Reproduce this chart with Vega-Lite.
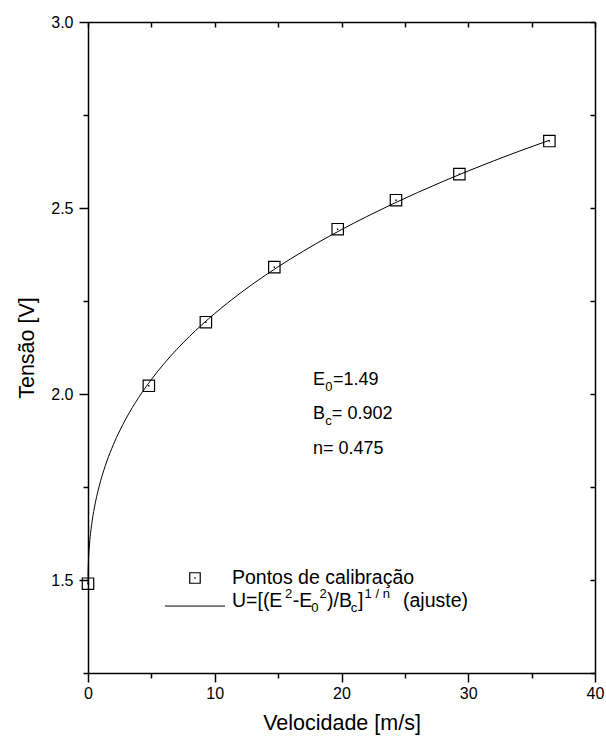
{
  "$schema": "https://vega.github.io/schema/vega-lite/v6.json",
  "width": 507,
  "height": 651,
  "autosize": {"type": "none"},
  "padding": {"left": 88, "top": 22, "right": 11, "bottom": 69},
  "background": "white",
  "config": {
    "view": {"stroke": null},
    "font": "Liberation Sans",
    "axis": {
      "domainColor": "black",
      "domainWidth": 1.5,
      "tickColor": "black",
      "tickWidth": 1.5,
      "labelColor": "black",
      "labelFont": "Liberation Sans",
      "labelFontSize": 16,
      "titleFont": "Liberation Sans",
      "titleFontSize": 21.5,
      "titleFontWeight": "normal",
      "titleColor": "black",
      "grid": false,
      "labelFlush": false,
      "labelOverlap": false
    }
  },
  "datasets": {
    "pts": [
      {"x": 0, "y": 1.49},
      {"x": 4.8, "y": 2.022},
      {"x": 9.3, "y": 2.193},
      {"x": 14.7, "y": 2.341},
      {"x": 19.7, "y": 2.443},
      {"x": 24.3, "y": 2.521},
      {"x": 29.3, "y": 2.591},
      {"x": 36.4, "y": 2.68}
    ],
    "fit": [
      {"x": 0, "y": 1.49},
      {"x": 0.01, "y": 1.5236},
      {"x": 0.02, "y": 1.5365},
      {"x": 0.05, "y": 1.5613},
      {"x": 0.1, "y": 1.5882},
      {"x": 0.2, "y": 1.6248},
      {"x": 0.3, "y": 1.6521},
      {"x": 0.5, "y": 1.6938},
      {"x": 0.75, "y": 1.734},
      {"x": 1, "y": 1.7669},
      {"x": 1.5, "y": 1.8203},
      {"x": 2, "y": 1.8638},
      {"x": 3, "y": 1.934},
      {"x": 4, "y": 1.9906},
      {"x": 5, "y": 2.039},
      {"x": 6, "y": 2.0816},
      {"x": 8, "y": 2.1546},
      {"x": 10, "y": 2.2165},
      {"x": 12, "y": 2.2708},
      {"x": 14, "y": 2.3194},
      {"x": 16, "y": 2.3636},
      {"x": 18, "y": 2.4042},
      {"x": 20, "y": 2.4419},
      {"x": 22, "y": 2.4771},
      {"x": 24, "y": 2.5103},
      {"x": 26, "y": 2.5416},
      {"x": 28, "y": 2.5713},
      {"x": 30, "y": 2.5996},
      {"x": 32, "y": 2.6266},
      {"x": 34, "y": 2.6525},
      {"x": 36.4, "y": 2.682}
    ],
    "ann": [
      {"x": 17.75, "y": 2.038, "t": "E", "k": "n"},
      {"x": 18.72, "y": 2.038, "t": "0", "k": "sub"},
      {"x": 19.32, "y": 2.038, "t": "=1.49", "k": "n"},
      {"x": 17.75, "y": 1.946, "t": "B", "k": "n"},
      {"x": 18.72, "y": 1.946, "t": "c", "k": "sub"},
      {"x": 19.24, "y": 1.946, "t": "= 0.902", "k": "n"},
      {"x": 17.75, "y": 1.852, "t": "n= 0.475", "k": "n"},
      {"x": 11.36, "y": 1.5054, "t": "Pontos de calibração", "k": "L"},
      {"x": 11.36, "y": 1.444, "t": "U=[(E", "k": "L"},
      {"x": 15.55, "y": 1.444, "t": "2", "k": "sup"},
      {"x": 16.15, "y": 1.444, "t": "-E", "k": "L"},
      {"x": 17.62, "y": 1.444, "t": "0", "k": "sub"},
      {"x": 18.27, "y": 1.444, "t": "2", "k": "sup"},
      {"x": 18.86, "y": 1.444, "t": ")/B", "k": "L"},
      {"x": 20.72, "y": 1.444, "t": "c", "k": "sub"},
      {"x": 21.3, "y": 1.444, "t": "]", "k": "L"},
      {"x": 21.82, "y": 1.444, "t": "1 / n", "k": "sup"},
      {"x": 24.85, "y": 1.444, "t": "(ajuste)", "k": "L"}
    ],
    "legsym": [{"x": 8.44, "y": 1.5054}],
    "legline": [{"x": 6.07, "x2": 10.81, "y": 1.43}]
  },
  "layer": [
    {
      "encoding": {
        "x": {
          "field": "x",
          "type": "quantitative",
          "scale": {"domain": [0, 40], "nice": false, "zero": false},
          "axis": {
            "orient": "bottom",
            "values": [0, 5, 10, 15, 20, 25, 30, 35, 40],
            "tickSize": {"condition": {"test": "datum.value % 10 === 0", "value": 9}, "value": 5},
            "labelExpr": "datum.value % 10 === 0 ? datum.label : ''",
            "labelPadding": 3,
            "title": "Velocidade [m/s]",
            "titleX": 253.5,
            "titleY": 50,
            "titleAlign": "center",
            "titleBaseline": "middle"
          }
        },
        "y": {
          "field": "y",
          "type": "quantitative",
          "scale": {"domain": [1.25, 3.0], "nice": false, "zero": false},
          "axis": {
            "orient": "left",
            "values": [1.25, 1.5, 1.75, 2.0, 2.25, 2.5, 2.75, 3.0],
            "format": ".1f",
            "tickSize": {"condition": {"test": "(datum.value * 4) % 2 === 0", "value": 9}, "value": 5},
            "labelExpr": "(datum.value * 4) % 2 === 0 ? datum.label : ''",
            "labelPadding": 6,
            "title": "Tensão [V]",
            "titleX": -61,
            "titleY": 325.5,
            "titleAngle": -90,
            "titleAlign": "center",
            "titleBaseline": "middle"
          }
        }
      },
      "layer": [
        {
          "data": {"name": "fit"},
          "mark": {"type": "line", "color": "black", "strokeWidth": 1, "interpolate": "monotone"}
        },
        {
          "data": {"name": "pts"},
          "mark": {"type": "point", "shape": "square", "size": 130, "filled": false, "color": "black", "strokeWidth": 1.2, "opacity": 1}
        },
        {
          "data": {"name": "pts"},
          "mark": {"type": "square", "size": 2, "color": "black", "opacity": 1}
        },
        {
          "data": {"name": "legsym"},
          "mark": {"type": "point", "shape": "square", "size": 110, "filled": false, "color": "black", "strokeWidth": 1.2, "opacity": 1}
        },
        {
          "data": {"name": "legsym"},
          "mark": {"type": "square", "size": 2, "color": "black", "opacity": 1}
        },
        {
          "data": {"name": "legline"},
          "mark": {"type": "rule", "color": "black", "strokeWidth": 1},
          "encoding": {"x2": {"field": "x2"}}
        },
        {
          "data": {"name": "ann"},
          "transform": [{"filter": "datum.k === 'n'"}],
          "mark": {"type": "text", "align": "left", "baseline": "middle", "fontSize": 18, "font": "Liberation Sans", "color": "black"},
          "encoding": {"text": {"field": "t"}}
        },
        {
          "data": {"name": "ann"},
          "transform": [{"filter": "datum.k === 'L'"}],
          "mark": {"type": "text", "align": "left", "baseline": "middle", "fontSize": 19.5, "font": "Liberation Sans", "color": "black"},
          "encoding": {"text": {"field": "t"}}
        },
        {
          "data": {"name": "ann"},
          "transform": [{"filter": "datum.k === 'sub'"}],
          "mark": {"type": "text", "align": "left", "baseline": "middle", "fontSize": 13, "dy": 7, "font": "Liberation Sans", "color": "black"},
          "encoding": {"text": {"field": "t"}}
        },
        {
          "data": {"name": "ann"},
          "transform": [{"filter": "datum.k === 'sup'"}],
          "mark": {"type": "text", "align": "left", "baseline": "middle", "fontSize": 13, "dy": -7, "font": "Liberation Sans", "color": "black"},
          "encoding": {"text": {"field": "t"}}
        }
      ]
    },
    {
      "data": {"name": "pts"},
      "mark": {"type": "point", "opacity": 0},
      "encoding": {
        "x": {
          "field": "x",
          "type": "quantitative",
          "scale": {"domain": [0, 40], "nice": false, "zero": false},
          "axis": {
            "orient": "top",
            "values": [0, 5, 10, 15, 20, 25, 30, 35, 40],
            "tickSize": -5,
            "labels": false,
            "title": null
          }
        },
        "y": {
          "field": "y",
          "type": "quantitative",
          "scale": {"domain": [1.25, 3.0], "nice": false, "zero": false},
          "axis": {
            "orient": "right",
            "values": [1.25, 1.5, 1.75, 2.0, 2.25, 2.5, 2.75, 3.0],
            "tickSize": -5,
            "labels": false,
            "title": null
          }
        }
      }
    }
  ],
  "resolve": {"scale": {"x": "independent", "y": "independent"}}
}
